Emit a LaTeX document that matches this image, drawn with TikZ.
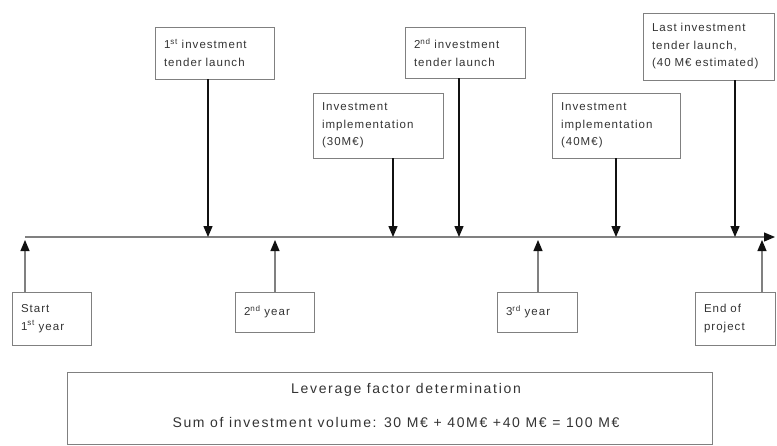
\documentclass[tikz,border=0pt]{standalone}
\usepackage{fontspec}
\setmainfont{Liberation Sans}
\newfontfamily\boxfont[LetterSpace=9]{Liberation Sans}
\newfontfamily\notefont[LetterSpace=12]{Liberation Sans}
\usetikzlibrary{arrows.meta}

\definecolor{edge}{HTML}{808080}
\definecolor{ink}{HTML}{333333}
\definecolor{dark}{HTML}{111111}

\tikzset{
  evbox/.style={draw=edge, line width=1pt, rectangle, anchor=north west,
    outer sep=0pt, inner xsep=9pt, inner ysep=2pt, align=left, text=ink,
    font=\boxfont\fontsize{11.5}{17.5}\selectfont},
  tip/.style={-{Triangle[length=11pt,width=9pt,color=dark,fill=dark]}},
  downarr/.style={draw=dark, line width=1.3pt, tip},
  uparr/.style={draw=edge, line width=1.2pt, tip},
  axis/.style={draw=edge, line width=1.2pt, tip},
  note/.style={text=ink, font=\notefont\fontsize{14}{16}\selectfont}
}

\begin{document}
\begin{tikzpicture}[x=1pt,y=-1pt]
  \useasboundingbox (0,0) rectangle (777,445);

  % time axis
  \coordinate (tl0) at (25,237);
  \coordinate (tl1) at (775,237);
  \draw[axis] (tl0) -- (tl1);

  % events above the axis
  \node[evbox, text width=101pt, minimum height=52pt] (t1) at (155,27)
    {1\textsuperscript{st} investment\\tender launch};
  \node[evbox, text width=112pt, minimum height=65pt] (t2) at (313,93)
    {Investment\\implementation\\(30M€)};
  \node[evbox, text width=102pt, minimum height=51pt] (t3) at (405,27)
    {2\textsuperscript{nd} investment\\tender launch};
  \node[evbox, text width=110pt, minimum height=65pt] (t4) at (552,93)
    {Investment\\implementation\\(40M€)};
  \node[evbox, text width=113pt, minimum height=67pt] (t5) at (643,13)
    {Last investment\\tender launch,\\(40 M€ estimated)};

  % milestones below the axis
  \node[evbox, text width=61pt, minimum height=53pt] (b1) at (12,292)
    {Start\\1\textsuperscript{st} year};
  \node[evbox, text width=61pt, minimum height=40pt] (b2) at (235,292)
    {2\textsuperscript{nd} year};
  \node[evbox, text width=62pt, minimum height=40pt] (b3) at (497,292)
    {3\textsuperscript{rd} year};
  \node[evbox, text width=62pt, minimum height=53pt] (b4) at (695,292)
    {End of\\project};

  % points on the axis
  \coordinate (p1) at (208,237);
  \coordinate (p2) at (393,237);
  \coordinate (p3) at (459,237);
  \coordinate (p4) at (616,237);
  \coordinate (p5) at (735,237);
  \coordinate (q1) at (25,240);
  \coordinate (q2) at (275,240);
  \coordinate (q3) at (538,240);
  \coordinate (q4) at (762,240);

  \draw[downarr] (t1.south -| p1) -- (p1);
  \draw[downarr] (t2.south -| p2) -- (p2);
  \draw[downarr] (t3.south -| p3) -- (p3);
  \draw[downarr] (t4.south -| p4) -- (p4);
  \draw[downarr] (t5.south -| p5) -- (p5);

  \draw[uparr] (b1.north -| q1) -- (q1);
  \draw[uparr] (b2.north -| q2) -- (q2);
  \draw[uparr] (b3.north -| q3) -- (q3);
  \draw[uparr] (b4.north -| q4) -- (q4);

  % leverage summary
  \node[draw=edge, line width=1pt, rectangle, anchor=north west, outer sep=0pt,
    minimum width=645pt, minimum height=72pt] (lf) at (67,372) {};
  \node[note] (lft) at (406,390) {Leverage factor determination};
  \node[note] (lfs) at (396,422)
    {Sum of investment volume: 30 M€ + 40M€ +40 M€ = 100 M€};
\end{tikzpicture}
\end{document}
